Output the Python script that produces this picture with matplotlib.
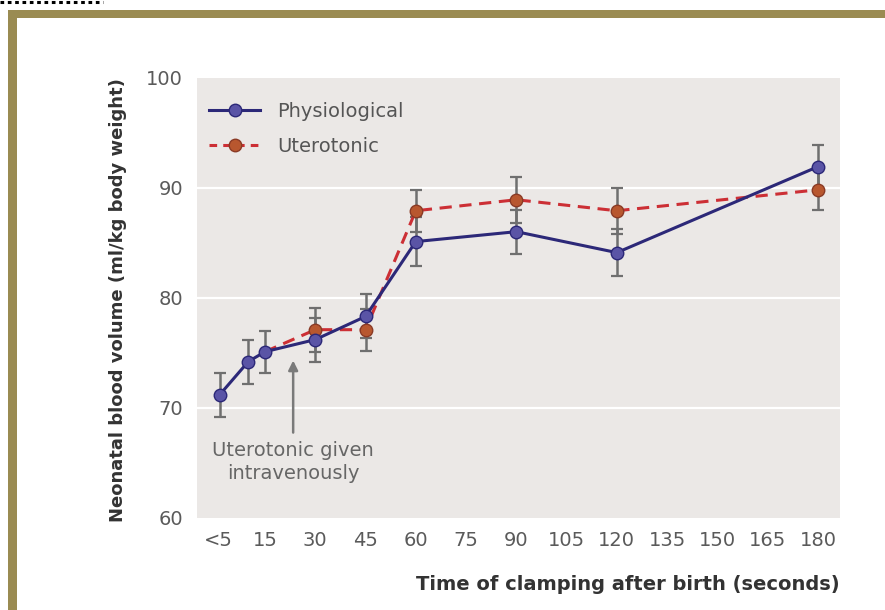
import matplotlib.pyplot as plt
from matplotlib.patches import Rectangle
from matplotlib.lines import Line2D

# data
phys_t = [1.5, 10, 15, 30, 45, 60, 90, 120, 180]
phys_v = [71.2, 74.2, 75.1, 76.2, 78.3, 85.1, 86.0, 84.1, 91.9]
phys_err = [2.0, 2.0, 1.9, 2.0, 2.0, 2.2, 2.0, 2.1, 2.0]

utero_t = [15, 30, 45, 60, 90, 120, 180]
utero_v = [75.1, 77.1, 77.1, 87.9, 88.9, 87.9, 89.8]
utero_err = [0, 2.0, 1.9, 1.9, 2.1, 2.1, 1.8]

xticks = [1, 15, 30, 45, 60, 75, 90, 105, 120, 135, 150, 165, 180]
xlabels = ['<5', '15', '30', '45', '60', '75', '90', '105', '120', '135', '150', '165', '180']
yticks = [60, 70, 80, 90, 100]

plt.rcParams['font.family'] = ['DejaVu Sans']

fig = plt.figure(figsize=(8.85, 6.1), dpi=100)
fig.patch.set_facecolor('white')

# olive frame and dotted line at the top
frame_col = '#9a8b52'
fig.add_artist(Rectangle((8 / 885, 1 - 18 / 610), 1, 8 / 610, transform=fig.transFigure,
                         facecolor=frame_col, edgecolor='none'))
fig.add_artist(Rectangle((8 / 885, 0), 9 / 885, 1 - 10 / 610, transform=fig.transFigure,
                         facecolor=frame_col, edgecolor='none'))
fig.add_artist(Line2D([0, 103 / 885], [1 - 1.5 / 610, 1 - 1.5 / 610], transform=fig.transFigure,
                      color='black', lw=2.2, linestyle=(0, (1.2, 1.2))))

ax = fig.add_axes([197 / 885, 92 / 610, 643 / 885, 440.5 / 610])
ax.set_facecolor('#ebe8e6')
for s in ax.spines.values():
    s.set_visible(False)

ax.set_xlim(-5.3, 186.6)
ax.set_ylim(60, 100)

for y in [70, 80, 90]:
    ax.axhline(y, color='white', lw=1.6, zorder=1)

blue = '#2c2878'
blue_fill = '#5a54a6'
red = '#cc2f35'
red_fill = '#b8572f'
err_col = '#6f6f6f'

ax.errorbar(utero_t[1:], utero_v[1:], yerr=utero_err[1:], fmt='none', ecolor=err_col,
            elinewidth=1.8, capsize=4, capthick=1.6, zorder=2)
ax.errorbar(phys_t, phys_v, yerr=phys_err, fmt='none', ecolor=err_col,
            elinewidth=1.8, capsize=4, capthick=1.6, zorder=2)

ax.plot(utero_t, utero_v, color=red, lw=2.2, linestyle=(0, (4, 2.5)), zorder=3)
ax.plot(utero_t[1:], utero_v[1:], linestyle='none', marker='o', markersize=9,
        markerfacecolor=red_fill, markeredgecolor='#8a3a25', markeredgewidth=1, zorder=4)
ax.plot(phys_t, phys_v, color=blue, lw=2.2, marker='o', markersize=9,
        markerfacecolor=blue_fill, markeredgecolor=blue, markeredgewidth=1, zorder=5)

ax.set_xticks(xticks)
ax.set_xticklabels(xlabels)
ax.set_yticks(yticks)
ax.tick_params(length=0, labelsize=14, colors='#5a5a5a', pad=9)
ax.tick_params(axis='y', pad=10)

# legend
leg_handles = [
    Line2D([], [], color=blue, lw=2.2, marker='o', markersize=9,
           markerfacecolor=blue_fill, markeredgecolor=blue),
    Line2D([], [], color=red, lw=2.2, linestyle=(0, (2.5, 2)), marker='o', markersize=9,
           markerfacecolor=red_fill, markeredgecolor='#8a3a25'),
]
ax.legend(leg_handles, ['Physiological', 'Uterotonic'], loc='upper left', frameon=False,
          fontsize=14, labelcolor='#555555', handlelength=2.6, handletextpad=0.9,
          labelspacing=0.85, bbox_to_anchor=(-0.008, 0.985))

# annotation
ax.annotate('Uterotonic given\nintravenously', xy=(23.4, 74.3), xytext=(23.4, 67.0),
            ha='center', va='top', fontsize=14, color='#666666', linespacing=1.25,
            arrowprops=dict(arrowstyle='-|>', color='#7a7a7a', lw=1.8,
                            mutation_scale=14, shrinkA=4, shrinkB=0))

fig.text(840 / 885, 1 - 585 / 610, 'Time of clamping after birth (seconds)', ha='right',
         va='center', fontsize=14, fontweight='bold', color='#333333')
fig.text(118 / 885, 1 - 300 / 610, 'Neonatal blood volume (ml/kg body weight)', ha='center',
         va='center', rotation=90, fontsize=13, fontweight='bold', color='#333333')

fig.savefig('out.png', dpi=100)
